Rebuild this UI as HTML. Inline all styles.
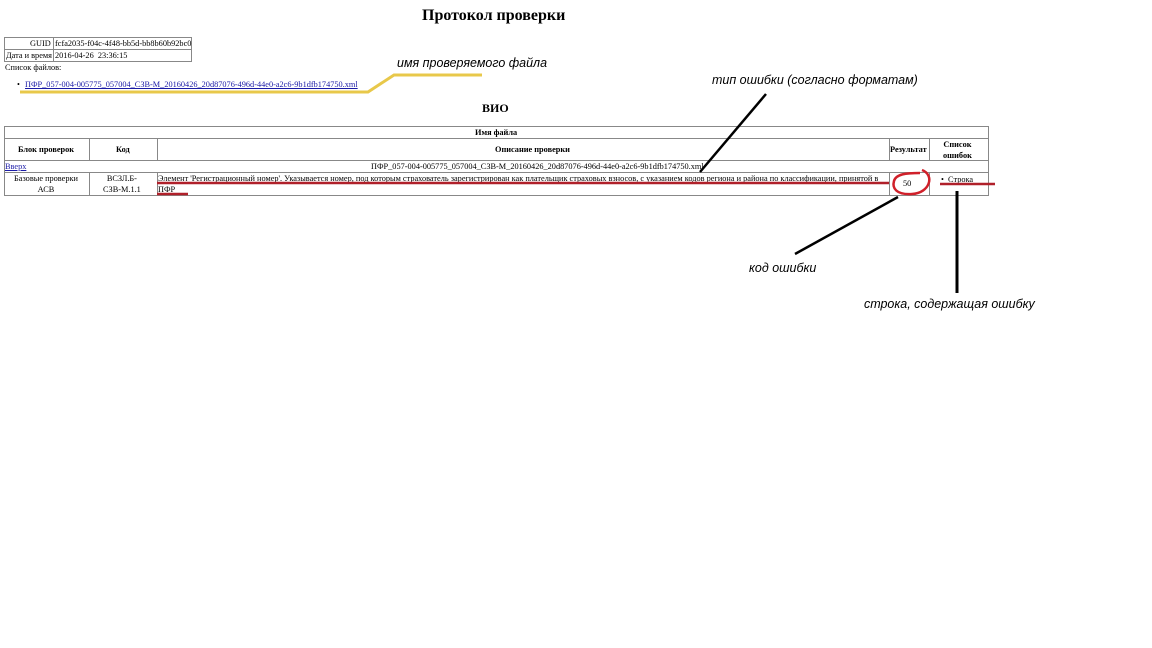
<!DOCTYPE html>
<html><head><meta charset="utf-8"><style>
body{margin:0;width:1152px;height:648px;background:#fff;position:relative;overflow:hidden;font-family:"Liberation Serif","DejaVu Serif",serif;color:#000}
.a{position:absolute;white-space:nowrap}
.s{font-size:8.3px}
.b{border:1px solid #888;position:absolute;box-sizing:border-box}
.it{font-family:"Liberation Sans",sans-serif;font-style:italic;font-size:13px;position:absolute;white-space:nowrap;transform:scaleX(0.96);transform-origin:left}
</style></head><body>
<div class="a" style="left:422px;top:7px;font-size:16px;font-weight:bold">Протокол проверки</div>
<div class="b" style="left:4px;top:37px;width:188px;height:25px"></div>
<div class="a" style="left:4px;top:49px;width:188px;border-top:1px solid #888"></div>
<div class="a" style="left:53px;top:37px;height:25px;border-left:1px solid #888"></div>
<div class="a s" style="left:30px;top:39px">GUID</div>
<div class="a s" style="left:55px;top:39px">fcfa2035-f04c-4f48-bb5d-bb8b60b92bc0</div>
<div class="a s" style="left:6px;top:51px">Дата и время</div>
<div class="a s" style="left:55px;top:51px">2016-04-26&nbsp; 23:36:15</div>
<div class="a s" style="left:5px;top:63px">Список файлов:</div>
<div class="a s" style="left:17px;top:80px">•</div>
<div class="a s" style="left:25px;top:80px;color:#1a1aa6;text-decoration:underline">ПФР_057-004-005775_057004_СЗВ-М_20160426_20d87076-496d-44e0-a2c6-9b1dfb174750.xml</div>
<div class="a" style="left:482px;top:101px;font-size:12px;font-weight:bold">ВИО</div>

<div class="b" style="left:4px;top:126px;width:985px;height:70px"></div>
<div class="a" style="left:4px;top:138px;width:985px;border-top:1px solid #888"></div>
<div class="a" style="left:4px;top:160px;width:985px;border-top:1px solid #888"></div>
<div class="a" style="left:4px;top:172px;width:985px;border-top:1px solid #888"></div>
<div class="a" style="left:89px;top:138px;height:22px;border-left:1px solid #888"></div>
<div class="a" style="left:157px;top:138px;height:22px;border-left:1px solid #888"></div>
<div class="a" style="left:889px;top:138px;height:22px;border-left:1px solid #888"></div>
<div class="a" style="left:929px;top:138px;height:22px;border-left:1px solid #888"></div>
<div class="a" style="left:89px;top:172px;height:24px;border-left:1px solid #888"></div>
<div class="a" style="left:157px;top:172px;height:24px;border-left:1px solid #888"></div>
<div class="a" style="left:889px;top:172px;height:24px;border-left:1px solid #888"></div>
<div class="a" style="left:929px;top:172px;height:24px;border-left:1px solid #888"></div>
<div class="a s" style="left:475px;top:128px;font-weight:bold">Имя файла</div>
<div class="a s" style="left:18px;top:145px;font-weight:bold">Блок проверок</div>
<div class="a s" style="left:116px;top:145px;font-weight:bold">Код</div>
<div class="a s" style="left:495px;top:145px;font-weight:bold">Описание проверки</div>
<div class="a s" style="left:890px;top:145px;font-weight:bold">Результат</div>
<div class="a s" style="left:943px;top:139px;font-weight:bold;text-align:center;line-height:11px">Список<br>ошибок</div>
<div class="a s" style="left:5px;top:162px;color:#1a1aa6;text-decoration:underline">Вверх</div>
<div class="a s" style="left:371px;top:162px">ПФР_057-004-005775_057004_СЗВ-М_20160426_20d87076-496d-44e0-a2c6-9b1dfb174750.xml</div>
<div class="a s" style="left:14px;top:173px;text-align:center;line-height:11px">Базовые проверки<br>АСВ</div>
<div class="a s" style="left:103px;top:173px;text-align:center;line-height:11px">ВСЗЛ.Б-<br>СЗВ-М.1.1</div>
<div class="a s" style="left:158px;top:173px;line-height:11px">Элемент 'Регистрационный номер'. Указывается номер, под которым страхователь зарегистрирован как плательщик страховых взносов, с указанием кодов региона и района по классификации, принятой в<br>ПФР</div>
<div class="a s" style="left:903px;top:179px">50</div>
<div class="a s" style="left:941px;top:175px">•&nbsp; Строка</div>

<svg class="a" style="left:0;top:0" width="1152" height="648">
<polyline points="20,92 368,92 394,75 482,75" fill="none" stroke="#e8c84a" stroke-width="3"/>
<line x1="700" y1="172" x2="766" y2="94" stroke="#000" stroke-width="2.5"/>
<line x1="157" y1="183" x2="889" y2="183" stroke="#b0202a" stroke-width="2.5"/>
<line x1="157" y1="194" x2="188" y2="194" stroke="#b0202a" stroke-width="2.5"/>
<line x1="940" y1="184" x2="995" y2="184" stroke="#b0202a" stroke-width="2.5"/>
<path d="M922,170 C935,175 930,193 912,194 C896,195 892,188 894,181 C896,174 906,173 920,173" fill="none" stroke="#d0202a" stroke-width="2.5"/>
<line x1="898" y1="197" x2="795" y2="254" stroke="#000" stroke-width="2.5"/>
<line x1="957" y1="191" x2="957" y2="293" stroke="#000" stroke-width="3"/>
</svg>
<div class="it" style="left:397px;top:55px">имя проверяемого файла</div>
<div class="it" style="left:712px;top:72px">тип ошибки (согласно форматам)</div>
<div class="it" style="left:749px;top:260px">код ошибки</div>
<div class="it" style="left:864px;top:296px">строка, содержащая ошибку</div>
</body></html>
